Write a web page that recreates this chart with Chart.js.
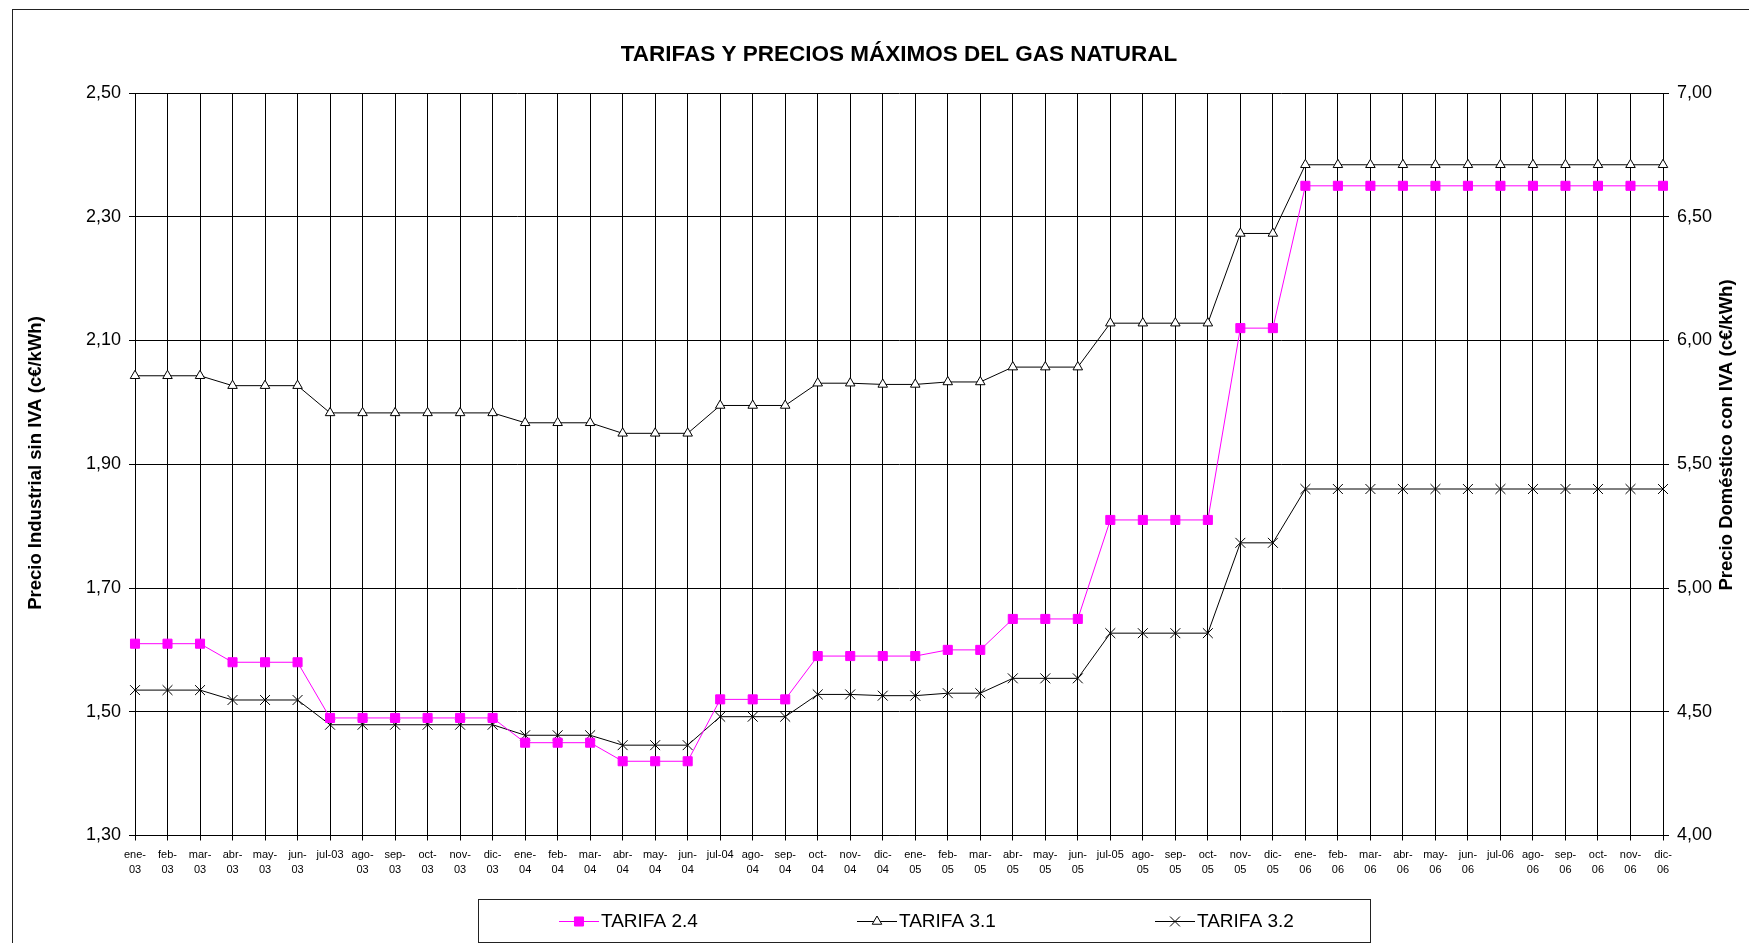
<!DOCTYPE html>
<html>
<head>
<meta charset="utf-8">
<script src="https://cdn.jsdelivr.net/npm/chart.js@4/dist/chart.umd.min.js"></script>
<style>
  html, body { margin: 0; padding: 0; background: #fff; overflow: hidden; }
  #wrap { position: relative; width: 1749px; height: 943px; }
  #frame { position: absolute; left: 12px; top: 9px; width: 1800px; height: 1000px; border-left: 1px solid #222; border-top: 1px solid #222; }
  #chart { position: absolute; left: 0; top: 0; }
</style>
</head>
<body>
<div id="wrap">
  <div id="frame"></div>
  <canvas id="chart" width="1749" height="943"></canvas>
</div>
<script>
  const meses = [
    'ene-03', 'feb-03', 'mar-03', 'abr-03', 'may-03', 'jun-03', 'jul-03', 'ago-03', 'sep-03', 'oct-03', 'nov-03', 'dic-03',
    'ene-04', 'feb-04', 'mar-04', 'abr-04', 'may-04', 'jun-04', 'jul-04', 'ago-04', 'sep-04', 'oct-04', 'nov-04', 'dic-04',
    'ene-05', 'feb-05', 'mar-05', 'abr-05', 'may-05', 'jun-05', 'jul-05', 'ago-05', 'sep-05', 'oct-05', 'nov-05', 'dic-05',
    'ene-06', 'feb-06', 'mar-06', 'abr-06', 'may-06', 'jun-06', 'jul-06', 'ago-06', 'sep-06', 'oct-06', 'nov-06', 'dic-06'
  ];

  const tarifa24 = [
    1.61, 1.61, 1.61, 1.58, 1.58, 1.58, 1.49, 1.49, 1.49, 1.49, 1.49, 1.49,
    1.45, 1.45, 1.45, 1.42, 1.42, 1.42, 1.52, 1.52, 1.52, 1.59, 1.59, 1.59,
    1.59, 1.60, 1.60, 1.65, 1.65, 1.65, 1.81, 1.81, 1.81, 1.81, 2.12, 2.12,
    2.35, 2.35, 2.35, 2.35, 2.35, 2.35, 2.35, 2.35, 2.35, 2.35, 2.35, 2.35
  ];

  const tarifa31 = [
    2.043, 2.043, 2.043, 2.027, 2.027, 2.027, 1.983, 1.983, 1.983, 1.983, 1.983, 1.983,
    1.967, 1.967, 1.967, 1.950, 1.950, 1.950, 1.995, 1.995, 1.995, 2.031, 2.031, 2.029,
    2.029, 2.033, 2.033, 2.057, 2.057, 2.057, 2.128, 2.128, 2.128, 2.128, 2.273, 2.273,
    2.384, 2.384, 2.384, 2.384, 2.384, 2.384, 2.384, 2.384, 2.384, 2.384, 2.384, 2.384
  ];

  const tarifa32 = [
    1.535, 1.535, 1.535, 1.519, 1.519, 1.519, 1.479, 1.479, 1.479, 1.479, 1.479, 1.479,
    1.462, 1.462, 1.462, 1.446, 1.446, 1.446, 1.492, 1.492, 1.492, 1.528, 1.528, 1.526,
    1.526, 1.530, 1.530, 1.554, 1.554, 1.554, 1.627, 1.627, 1.627, 1.627, 1.773, 1.773,
    1.860, 1.860, 1.860, 1.860, 1.860, 1.860, 1.860, 1.860, 1.860, 1.860, 1.860, 1.860
  ];

  // ticks of both y axes
  const ticksIzq = { min: 1.3, max: 2.5, step: 0.2 };
  const ticksDer = { min: 4.0, max: 7.0, step: 0.5 };

  const titulo = 'TARIFAS Y PRECIOS MÁXIMOS DEL GAS NATURAL';
  const tituloIzq = 'Precio Industrial sin IVA (c€/kWh)';
  const tituloDer = 'Precio Doméstico con IVA (c€/kWh)';

  const FONT = '"Liberation Sans", Arial, sans-serif';
  const coma = (v) => v.toFixed(2).replace('.', ',');

  // title, axis titles and boxed legend
  const extras = {
    id: 'extras',
    afterDraw(chart) {
      const { ctx, chartArea: a } = chart;
      ctx.save();
      ctx.fillStyle = '#000';
      ctx.textAlign = 'center';
      ctx.textBaseline = 'middle';
      ctx.font = 'bold 22.5px ' + FONT;
      ctx.fillText(titulo, (a.left + a.right) / 2, 55);

      ctx.font = 'bold 18.5px ' + FONT;
      ctx.save();
      ctx.translate(36, 463);
      ctx.rotate(-Math.PI / 2);
      ctx.fillText(tituloIzq, 0, 0);
      ctx.restore();
      ctx.save();
      ctx.translate(1727, 435);
      ctx.rotate(-Math.PI / 2);
      ctx.fillText(tituloDer, 0, 0);
      ctx.restore();

      ctx.strokeStyle = '#222';
      ctx.lineWidth = 1;
      ctx.strokeRect(478.5, 899.5, 892, 43);

      ctx.textAlign = 'left';
      ctx.font = '19px ' + FONT;
      chart.data.datasets.forEach((ds, i) => {
        const x0 = 559 + i * 298;
        const y = 921.5;
        ctx.strokeStyle = ds.borderColor;
        ctx.lineWidth = 1;
        ctx.beginPath();
        ctx.moveTo(x0, y);
        ctx.lineTo(x0 + 40, y);
        ctx.stroke();
        ctx.fillStyle = ds.pointBackgroundColor;
        ctx.strokeStyle = ds.pointBorderColor;
        Chart.helpers.drawPoint(ctx, { pointStyle: ds.pointStyle, radius: ds.pointRadius, rotation: 0, borderWidth: 1 }, x0 + 20, y);
        ctx.fillStyle = '#000';
        ctx.fillText(ds.label, x0 + 42, y);
      });
      ctx.restore();
    }
  };

  new Chart(document.getElementById('chart'), {
    type: 'line',
    data: {
      labels: meses,
      datasets: [
        {
          label: 'TARIFA 2.4',
          data: tarifa24,
          borderColor: '#FF00FF',
          backgroundColor: '#FF00FF',
          pointStyle: 'rect',
          pointRadius: 6.4,
          pointBackgroundColor: '#FF00FF',
          pointBorderColor: '#FF00FF',
          pointBorderWidth: 1,
          borderWidth: 1,
          yAxisID: 'y'
        },
        {
          label: 'TARIFA 3.1',
          data: tarifa31,
          borderColor: '#000',
          backgroundColor: '#fff',
          pointStyle: 'triangle',
          pointRadius: 5.5,
          pointBackgroundColor: '#fff',
          pointBorderColor: '#000',
          pointBorderWidth: 1,
          borderWidth: 1,
          yAxisID: 'y'
        },
        {
          label: 'TARIFA 3.2',
          data: tarifa32,
          borderColor: '#000',
          backgroundColor: '#000',
          pointStyle: 'crossRot',
          pointRadius: 7,
          pointBackgroundColor: '#000',
          pointBorderColor: '#000',
          pointBorderWidth: 1,
          borderWidth: 1,
          yAxisID: 'y'
        }
      ]
    },
    options: {
      responsive: false,
      animation: false,
      events: [],
      layout: { padding: { top: 93, left: 0, right: 0, bottom: 0 } },
      plugins: {
        legend: { display: false },
        title: { display: false },
        tooltip: { enabled: false }
      },
      scales: {
        x: {
          offset: false,
          grid: { color: '#000', lineWidth: 1, tickLength: 5 },
          border: { color: '#000' },
          ticks: {
            autoSkip: false,
            maxRotation: 0,
            minRotation: 0,
            padding: 6,
            color: '#000',
            font: { family: FONT, size: 11, lineHeight: 1.45 },
            callback: (v, i) => {
              const m = meses[i];
              return m.startsWith('jul') ? m : [m.slice(0, 4), m.slice(4)];
            }
          },
          afterFit: (s) => { s.height = 107.5; }
        },
        y: {
          position: 'left',
          min: ticksIzq.min,
          max: ticksIzq.max,
          grid: { color: '#000', lineWidth: 1, tickLength: 6 },
          border: { color: '#000' },
          ticks: {
            stepSize: ticksIzq.step,
            padding: 8,
            color: '#000',
            font: { family: FONT, size: 18 },
            callback: (v) => coma(v)
          },
          afterFit: (s) => { s.width = 135; }
        },
        y2: {
          position: 'right',
          min: ticksDer.min,
          max: ticksDer.max,
          grid: { drawOnChartArea: false, color: '#000', lineWidth: 1, tickLength: 6 },
          border: { color: '#000' },
          ticks: {
            stepSize: ticksDer.step,
            padding: 8,
            color: '#000',
            font: { family: FONT, size: 18 },
            callback: (v) => coma(v)
          },
          afterFit: (s) => { s.width = 86; }
        }
      }
    },
    plugins: [extras]
  });
</script>
</body>
</html>
